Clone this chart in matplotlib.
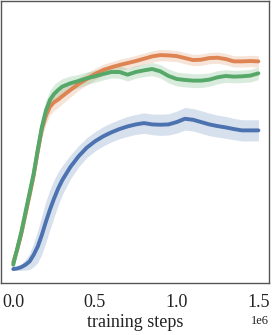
import numpy as np
import matplotlib
matplotlib.use("Agg")
import matplotlib.pyplot as plt

plt.rcParams['font.family'] = ['Liberation Serif', 'DejaVu Serif']

# training steps (in 1e6 units)
steps = [0.0, 0.025, 0.05, 0.075, 0.1, 0.125, 0.15, 0.175, 0.2, 0.225, 0.25, 0.275, 0.3,
         0.35, 0.4, 0.45, 0.5, 0.55, 0.6, 0.65, 0.7, 0.75, 0.8, 0.85, 0.9, 0.95, 1.0,
         1.05, 1.1, 1.15, 1.2, 1.25, 1.3, 1.35, 1.4, 1.45, 1.5]

# mean returns
orange_mean = [310, 510, 750, 1040, 1325, 1625, 1990, 2325, 2525, 2660, 2725, 2765, 2815,
               2910, 3000, 3075, 3150, 3210, 3250, 3285, 3315, 3345, 3380, 3415, 3435, 3430, 3420,
               3390, 3360, 3365, 3390, 3395, 3375, 3340, 3340, 3345, 3340]
green_mean = [275, 525, 775, 1070, 1360, 1650, 2010, 2350, 2600, 2760, 2850, 2910, 2960,
              3010, 3045, 3085, 3115, 3150, 3180, 3180, 3140, 3180, 3205, 3225, 3190, 3120, 3075,
              3060, 3050, 3050, 3065, 3100, 3120, 3110, 3115, 3125, 3160]
blue_mean = [210, 220, 240, 275, 325, 425, 550, 725, 925, 1110, 1275, 1425, 1550,
             1750, 1910, 2040, 2135, 2210, 2270, 2320, 2360, 2390, 2410, 2390, 2385, 2390, 2425,
             2475, 2460, 2425, 2390, 2365, 2345, 2320, 2300, 2300, 2300]

# half width of the shaded band
orange_err = [40, 60, 80, 90, 100, 110, 120, 130, 135, 130, 125, 120, 115,
              105, 95, 90, 85, 85, 85, 85, 85, 85, 85, 85, 85, 85, 85,
              85, 85, 85, 85, 85, 85, 85, 85, 85, 90]
green_err = [40, 60, 80, 90, 100, 110, 125, 140, 150, 145, 140, 130, 120,
             110, 100, 95, 90, 90, 90, 95, 95, 95, 95, 100, 100, 105, 105,
             105, 105, 105, 100, 100, 95, 95, 95, 95, 95]
blue_err = [20, 30, 50, 80, 120, 180, 240, 290, 310, 300, 280, 250, 220,
            180, 160, 150, 145, 145, 145, 145, 150, 150, 155, 155, 160, 160, 165,
            170, 170, 170, 170, 165, 165, 160, 160, 160, 160]

series = [
    (blue_mean, blue_err, '#4c72b0'),
    (orange_mean, orange_err, '#dd8452'),
    (green_mean, green_err, '#55a868'),
]

fig = plt.figure(figsize=(2.72, 3.35), dpi=100)
ax = fig.add_axes([1 / 272, (335 - 283) / 335, 268 / 272, 282 / 335])

x = np.array(steps) * 1e6
for mean, err, col in series:
    mean = np.array(mean, dtype=float)
    err = np.array(err, dtype=float)
    ax.fill_between(x, mean - err, mean + err, color=col, alpha=0.22, linewidth=0)
    ax.plot(x, mean, color=col, linewidth=2.8, solid_capstyle='round')

ax.set_xlim(-0.075e6, 1.565e6)
ax.set_ylim(0, 4250)
ax.set_xticks([0, 0.5e6, 1.0e6, 1.5e6])
ax.set_yticks([])
ax.tick_params(axis='x', length=0, pad=8, labelsize=13, colors='#222222')
ax.xaxis.get_offset_text().set_fontsize(9)
ax.set_xlabel('training steps', fontsize=13, labelpad=2, color='#222222')
for sp in ax.spines.values():
    sp.set_color('#555555')
    sp.set_linewidth(1.0)

fig.savefig('out.png', dpi=100)
